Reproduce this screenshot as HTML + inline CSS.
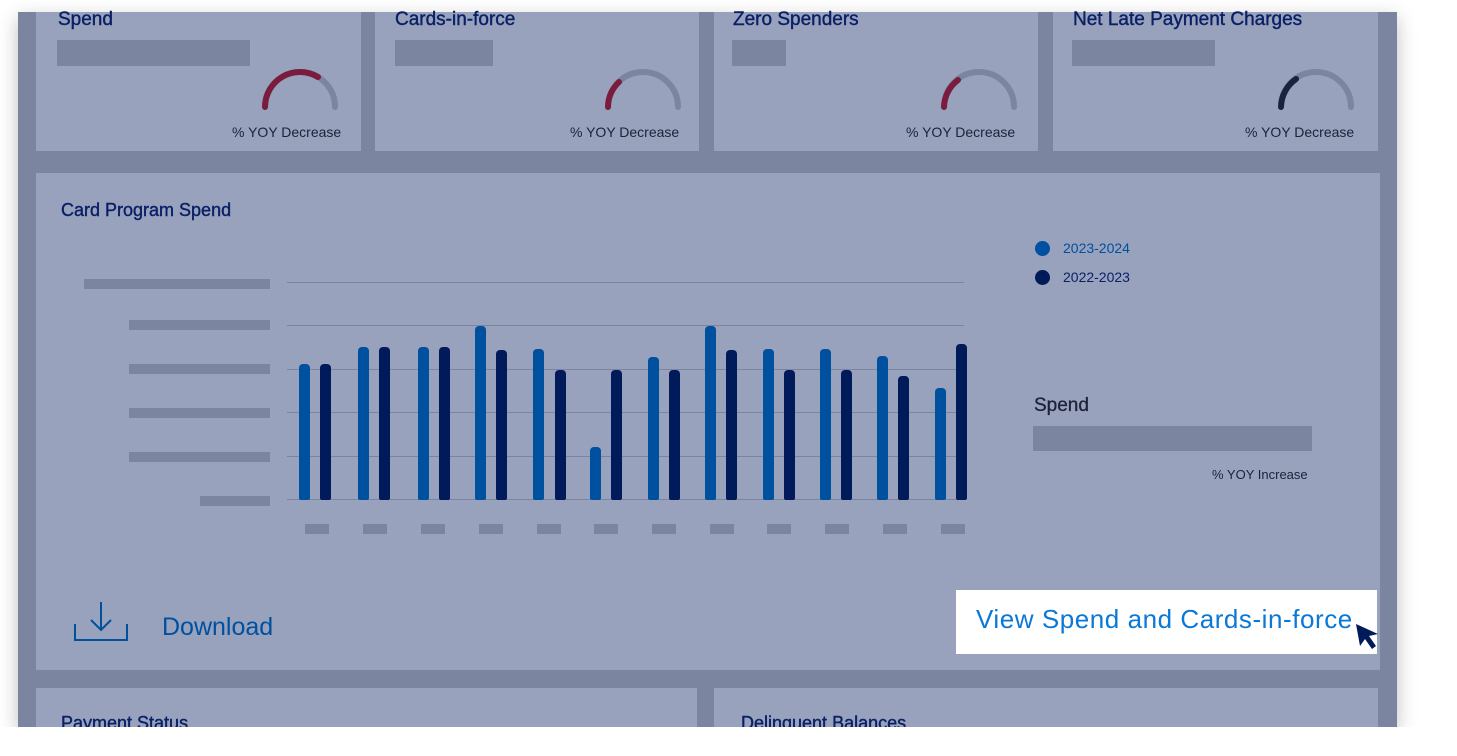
<!DOCTYPE html>
<html><head><style>
body{margin:0;width:1457px;height:756px;background:#fff;position:relative;overflow:hidden;font-family:"Liberation Sans",sans-serif}
.a{position:absolute}
.frame{left:18px;top:12px;width:1379px;height:715px;background:#7c859f;box-shadow:0 6px 18px rgba(0,0,0,.25)}
.p{position:absolute;background:#98a2bc}
.t{position:absolute;color:#0a1f66;font-size:19px;-webkit-text-stroke:0.4px #0a1f66}
.g{position:absolute;background:#7c859f}
.s{position:absolute;font-size:14px;color:#1c2238}
.bar{position:absolute;width:11px;border-radius:4px 4px 2px 2px;bottom:256px}
.l{background:#0050a0}.d{background:#001a5a}
.gl{position:absolute;left:287px;width:677px;height:1px;background:#7c859f}
</style></head><body>
<div class="a frame"></div>
<div class="p" style="left:36px;top:12px;width:325px;height:139px"></div>
<div class="p" style="left:375px;top:12px;width:324px;height:139px"></div>
<div class="p" style="left:714px;top:12px;width:324px;height:139px"></div>
<div class="p" style="left:1053px;top:12px;width:325px;height:139px"></div>
<div class="t" style="left:58px;top:9px">Spend</div>
<div class="t" style="left:395px;top:9px">Cards-in-force</div>
<div class="t" style="left:733px;top:9px">Zero Spenders</div>
<div class="t" style="left:1073px;top:9px">Net Late Payment Charges</div>
<div class="g" style="left:57px;top:40px;width:193px;height:26px"></div>
<div class="g" style="left:395px;top:40px;width:98px;height:26px"></div>
<div class="g" style="left:732px;top:40px;width:54px;height:26px"></div>
<div class="g" style="left:1072px;top:40px;width:143px;height:26px"></div>
<svg class="a" style="left:0;top:0" width="1457" height="160">
<g fill="none" stroke-width="6" stroke-linecap="round">
<path d="M265 107 A35 35 0 0 1 335 107" stroke="#7c859f"/><path d="M265 107 A35 35 0 0 1 318 77" stroke="#7a1c3e"/>
<path d="M608 107 A35 35 0 0 1 678 107" stroke="#7c859f"/><path d="M608 107 A35 35 0 0 1 619 82" stroke="#7a1c3e"/>
<path d="M944 107 A35 35 0 0 1 1014 107" stroke="#7c859f"/><path d="M944 107 A35 35 0 0 1 958 80" stroke="#7a1c3e"/>
<path d="M1281 107 A35 35 0 0 1 1351 107" stroke="#7c859f"/><path d="M1281 107 A35 35 0 0 1 1296 79" stroke="#1a2240"/>
</g></svg>
<div class="s" style="left:232px;top:124px">% YOY Decrease</div>
<div class="s" style="left:570px;top:124px">% YOY Decrease</div>
<div class="s" style="left:906px;top:124px">% YOY Decrease</div>
<div class="s" style="left:1245px;top:124px">% YOY Decrease</div>

<div class="p" style="left:36px;top:173px;width:1344px;height:497px"></div>
<div class="t" style="left:61px;top:200px;font-size:18px">Card Program Spend</div>
<div class="g" style="left:84px;top:279px;width:186px;height:10px"></div>
<div class="g" style="left:129px;top:320px;width:141px;height:10px"></div>
<div class="g" style="left:129px;top:364px;width:141px;height:10px"></div>
<div class="g" style="left:129px;top:408px;width:141px;height:10px"></div>
<div class="g" style="left:129px;top:452px;width:141px;height:10px"></div>
<div class="g" style="left:200px;top:496px;width:70px;height:10px"></div>
<div class="gl" style="top:282px"></div><div class="gl" style="top:325px"></div><div class="gl" style="top:369px"></div><div class="gl" style="top:412px"></div><div class="gl" style="top:456px"></div><div class="gl" style="top:499px"></div>
<div class="bar l" style="left:299px;top:364px"></div><div class="bar d" style="left:320px;top:364px"></div>
<div class="bar l" style="left:358px;top:347px"></div><div class="bar d" style="left:379px;top:347px"></div>
<div class="bar l" style="left:418px;top:347px"></div><div class="bar d" style="left:439px;top:347px"></div>
<div class="bar l" style="left:475px;top:326px"></div><div class="bar d" style="left:496px;top:350px"></div>
<div class="bar l" style="left:533px;top:349px"></div><div class="bar d" style="left:555px;top:370px"></div>
<div class="bar l" style="left:590px;top:447px"></div><div class="bar d" style="left:611px;top:370px"></div>
<div class="bar l" style="left:648px;top:357px"></div><div class="bar d" style="left:669px;top:370px"></div>
<div class="bar l" style="left:705px;top:326px"></div><div class="bar d" style="left:726px;top:350px"></div>
<div class="bar l" style="left:763px;top:349px"></div><div class="bar d" style="left:784px;top:370px"></div>
<div class="bar l" style="left:820px;top:349px"></div><div class="bar d" style="left:841px;top:370px"></div>
<div class="bar l" style="left:877px;top:356px"></div><div class="bar d" style="left:898px;top:376px"></div>
<div class="bar l" style="left:935px;top:388px"></div><div class="bar d" style="left:956px;top:344px"></div>
<div class="g" style="left:305px;top:524px;width:24px;height:10px"></div>
<div class="g" style="left:363px;top:524px;width:24px;height:10px"></div>
<div class="g" style="left:421px;top:524px;width:24px;height:10px"></div>
<div class="g" style="left:479px;top:524px;width:24px;height:10px"></div>
<div class="g" style="left:537px;top:524px;width:24px;height:10px"></div>
<div class="g" style="left:594px;top:524px;width:24px;height:10px"></div>
<div class="g" style="left:652px;top:524px;width:24px;height:10px"></div>
<div class="g" style="left:710px;top:524px;width:24px;height:10px"></div>
<div class="g" style="left:767px;top:524px;width:24px;height:10px"></div>
<div class="g" style="left:825px;top:524px;width:24px;height:10px"></div>
<div class="g" style="left:883px;top:524px;width:24px;height:10px"></div>
<div class="g" style="left:941px;top:524px;width:24px;height:10px"></div>
<div class="a" style="left:1035px;top:241px;width:15px;height:15px;border-radius:50%;background:#0050a0"></div>
<div class="s" style="left:1063px;top:240px;color:#0050a0">2023-2024</div>
<div class="a" style="left:1035px;top:270px;width:15px;height:15px;border-radius:50%;background:#001a5a"></div>
<div class="s" style="left:1063px;top:269px;color:#0a1f66">2022-2023</div>
<div class="t" style="left:1034px;top:395px;color:#1c2238;-webkit-text-stroke:0.3px #1c2238">Spend</div>
<div class="g" style="left:1033px;top:426px;width:279px;height:25px"></div>
<div class="s" style="left:1212px;top:467px;font-size:13px">% YOY Increase</div>
<svg class="a" style="left:72px;top:600px" width="60" height="44" fill="none" stroke="#0050a0" stroke-width="2"><path d="M3 24 V40 H55 V24"/><path d="M29 2 V30 M19 20 L29 30 L39 20"/></svg>
<div class="a" style="left:162px;top:613px;font-size:25px;color:#0050a0">Download</div>
<div class="a" style="left:956px;top:590px;width:421px;height:64px;background:#fff"></div>
<div class="a" style="left:976px;top:604px;font-size:26px;color:#0a78d6;letter-spacing:0.55px">View Spend and Cards-in-force</div>
<svg class="a" style="left:1354px;top:622px" width="30" height="30"><path d="M2 2 L24 12 L15 14 L22 24 L18 27 L11 17 L6 24 Z" fill="#001a5a"/></svg>
<div class="p" style="left:36px;top:688px;width:661px;height:39px"></div>
<div class="p" style="left:714px;top:688px;width:664px;height:39px"></div>
<div class="t" style="left:61px;top:713px;font-size:18px">Payment Status</div>
<div class="t" style="left:741px;top:713px;font-size:18px">Delinquent Balances</div>
<div class="a" style="left:0;top:727px;width:1457px;height:29px;background:#fff"></div>
</body></html>
